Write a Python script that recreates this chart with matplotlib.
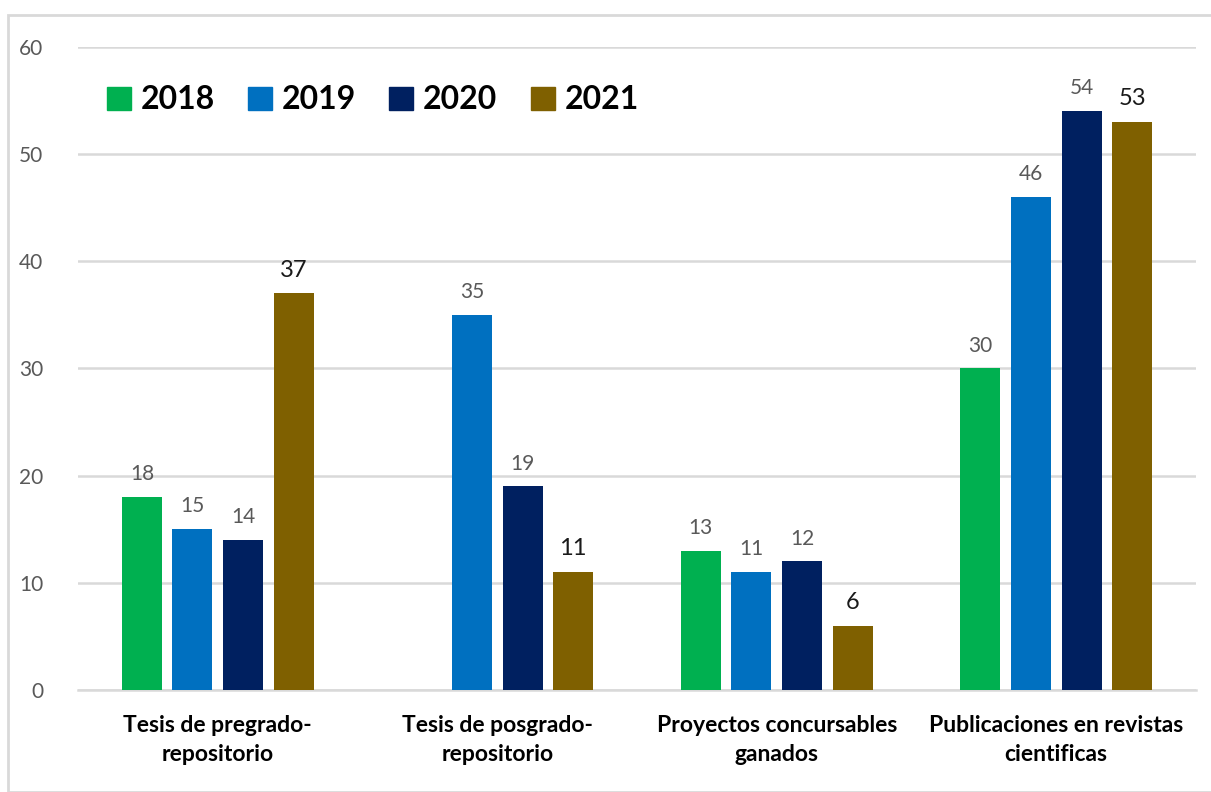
import numpy as np
import matplotlib.pyplot as plt
from matplotlib.patches import Rectangle

# Datos
categorias = ['Tesis de pregrado-\nrepositorio', 'Tesis de posgrado-\nrepositorio',
              'Proyectos concursables\nganados', 'Publicaciones en revistas\ncientificas']
anios = ['2018', '2019', '2020', '2021']
v2018 = [18, None, 13, 30]
v2019 = [15, 35, 11, 46]
v2020 = [14, 19, 12, 54]
v2021 = [37, 11, 6, 53]
colores = ['#00B050', '#0070C0', '#002060', '#7F6000']

plt.rcParams['font.family'] = ['Lato', 'DejaVu Sans']

fig = plt.figure(figsize=(12.11, 7.92), dpi=100)
ax = fig.add_axes([0.0644, 0.1288, 0.9232, 0.8119])

# Borde exterior del grafico
fig.patches.append(Rectangle((8 / 1211, 0), 1.2, 1 - 15 / 792, transform=fig.transFigure,
                             fill=False, edgecolor='#d9d9d9', linewidth=2))

x = np.arange(len(categorias))
ancho = 0.143
paso = 0.181
series = [v2018, v2019, v2020, v2021]

for i, (serie, color) in enumerate(zip(series, colores)):
    pos = x + (i - 1.5) * paso
    for p, v in zip(pos, serie):
        if v is None:
            continue
        ax.bar(p, v, width=ancho, color=color, zorder=3)
        if i == 3:
            ax.text(p, v + 1.2, str(v), ha='center', va='bottom', fontsize=17, color='#1a1a1a')
        else:
            ax.text(p, v + 1.2, str(v), ha='center', va='bottom', fontsize=15, color='#595959')

ax.set_xlim(-0.5, 3.5)
ax.set_ylim(0, 60)
ax.set_yticks(range(0, 61, 10))
ax.yaxis.grid(True, color='#d9d9d9', linewidth=1.8, zorder=0)
for s in ['top', 'right', 'left']:
    ax.spines[s].set_visible(False)
ax.spines['bottom'].set_color('#d9d9d9')
ax.spines['bottom'].set_linewidth(1.8)
ax.tick_params(axis='y', length=0, labelsize=15, labelcolor='#595959', pad=25)
ax.tick_params(axis='x', length=0, pad=18)
ax.set_xticks(x)
ax.set_xticklabels(categorias, fontsize=16.5, fontweight='bold', color='black', linespacing=1.45)

handles = [Rectangle((0, 0), 1, 1, color=c) for c in colores]
ax.legend(handles, anios, loc='upper left', bbox_to_anchor=(0.0, 0.985), ncol=4, frameon=False,
          prop={'size': 23, 'weight': 'bold'}, handlelength=0.75, handleheight=0.75,
          handletextpad=0.3, columnspacing=1.05)

plt.savefig('out.png')
